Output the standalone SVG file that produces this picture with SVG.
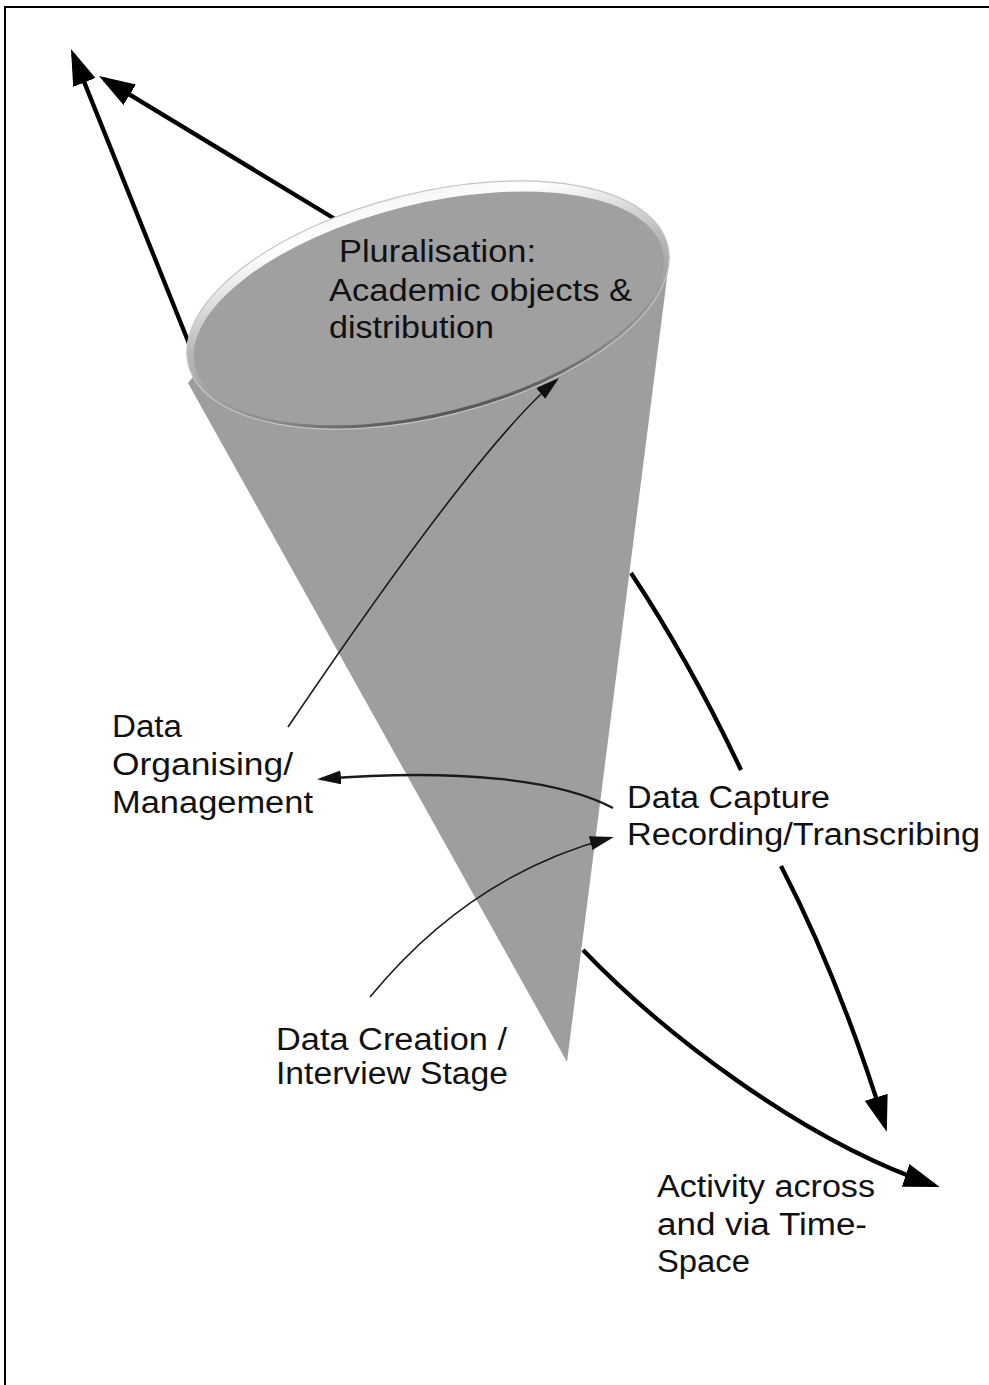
<svg xmlns="http://www.w3.org/2000/svg" width="989" height="1385" viewBox="0 0 989 1385">
  <style>
    .label { font-family: "Liberation Sans", Arial, sans-serif; font-size: 31px; fill: #111; }
    .heavy { fill: none; stroke: #000; stroke-width: 4.3; stroke-linecap: butt; }
    .thin { fill: none; stroke: #1a1a1a; stroke-width: 1.6; }
    .medium { fill: none; stroke: #1a1a1a; stroke-width: 2.4; }
  </style>
  <defs>
    <marker id="headBig" markerUnits="userSpaceOnUse" markerWidth="40" markerHeight="26" refX="30" refY="12" orient="auto">
      <path d="M0,0 L36,12 L0,24 Z" fill="#000"/>
    </marker>
    <marker id="headSmall" markerUnits="userSpaceOnUse" markerWidth="26" markerHeight="16" refX="20" refY="7" orient="auto">
      <path d="M0,0 L24,7 L0,14 Z" fill="#111"/>
    </marker>
    <linearGradient id="rimShade" x1="0" y1="0" x2="0" y2="1">
      <stop offset="0" stop-color="#f6f6f6"/>
      <stop offset="0.1" stop-color="#ffffff"/>
      <stop offset="0.45" stop-color="#b8b8b8"/>
      <stop offset="0.85" stop-color="#8a8a8a"/>
      <stop offset="1" stop-color="#555555"/>
    </linearGradient>
  </defs>

  <rect width="989" height="1385" fill="#fff"/>
  <!-- frame (only top and left edges visible) -->
  <path d="M5,1385 V7 H989" fill="none" stroke="#000" stroke-width="2"/>

  <!-- flow arrows passing behind the cone -->
  <g id="connectors-back">
    <path class="heavy" d="M190,346 L73.2,54.6" marker-end="url(#headBig)"/>
    <path class="heavy" d="M335,219 L104.1,79.1" marker-end="url(#headBig)"/>
    <path class="heavy" d="M631,573 Q690,662 741,770"/>
    <path class="heavy" d="M781,866 Q840,980 885,1126" marker-end="url(#headBig)"/>
    <path class="heavy" d="M583,950 C660,1030 800,1140 934,1185" marker-end="url(#headBig)"/>
  </g>

  <!-- cone -->
  <g id="cone">
    <polygon points="188,383 567,1062 668,270 430,305 200,368" fill="#9e9e9e"/>
    <g transform="rotate(-14 428 305)">
      <ellipse cx="428" cy="305" rx="247" ry="112" fill="url(#rimShade)" stroke="#c4c4c4" stroke-width="1.2"/>
      <ellipse cx="428" cy="308.5" rx="241" ry="104.5" fill="#a0a0a0"/>
    </g>
    <text class="label" x="339" y="262" textLength="197" lengthAdjust="spacingAndGlyphs">Pluralisation:</text>
    <text class="label" x="329" y="301" textLength="303" lengthAdjust="spacingAndGlyphs">Academic objects &amp;</text>
    <text class="label" x="329" y="338" textLength="165" lengthAdjust="spacingAndGlyphs">distribution</text>
  </g>

  <!-- stage arrows drawn over the cone -->
  <g id="connectors-front">
    <path class="thin" d="M288,727 Q478,446 556,380.5" marker-end="url(#headSmall)"/>
    <path class="medium" d="M613,808 C560,780 460,768 321,779" marker-end="url(#headSmall)"/>
    <path class="thin" d="M370,997 Q470,875 610,838" marker-end="url(#headSmall)"/>
  </g>

  <g id="data-organising">
    <text class="label" x="112" y="737" textLength="70" lengthAdjust="spacingAndGlyphs">Data</text>
    <text class="label" x="112" y="775" textLength="181" lengthAdjust="spacingAndGlyphs">Organising/</text>
    <text class="label" x="112" y="813" textLength="201" lengthAdjust="spacingAndGlyphs">Management</text>
  </g>

  <g id="data-capture">
    <text class="label" x="627" y="808" textLength="203" lengthAdjust="spacingAndGlyphs">Data Capture</text>
    <text class="label" x="627" y="845" textLength="353" lengthAdjust="spacingAndGlyphs">Recording/Transcribing</text>
  </g>

  <g id="data-creation">
    <text class="label" x="276" y="1050" textLength="231" lengthAdjust="spacingAndGlyphs">Data Creation /</text>
    <text class="label" x="276" y="1084" textLength="232" lengthAdjust="spacingAndGlyphs">Interview Stage</text>
  </g>

  <g id="activity">
    <text class="label" x="657" y="1197" textLength="218" lengthAdjust="spacingAndGlyphs">Activity across</text>
    <text class="label" x="657" y="1235" textLength="210" lengthAdjust="spacingAndGlyphs">and via Time-</text>
    <text class="label" x="657" y="1272" textLength="93" lengthAdjust="spacingAndGlyphs">Space</text>
  </g>
</svg>
